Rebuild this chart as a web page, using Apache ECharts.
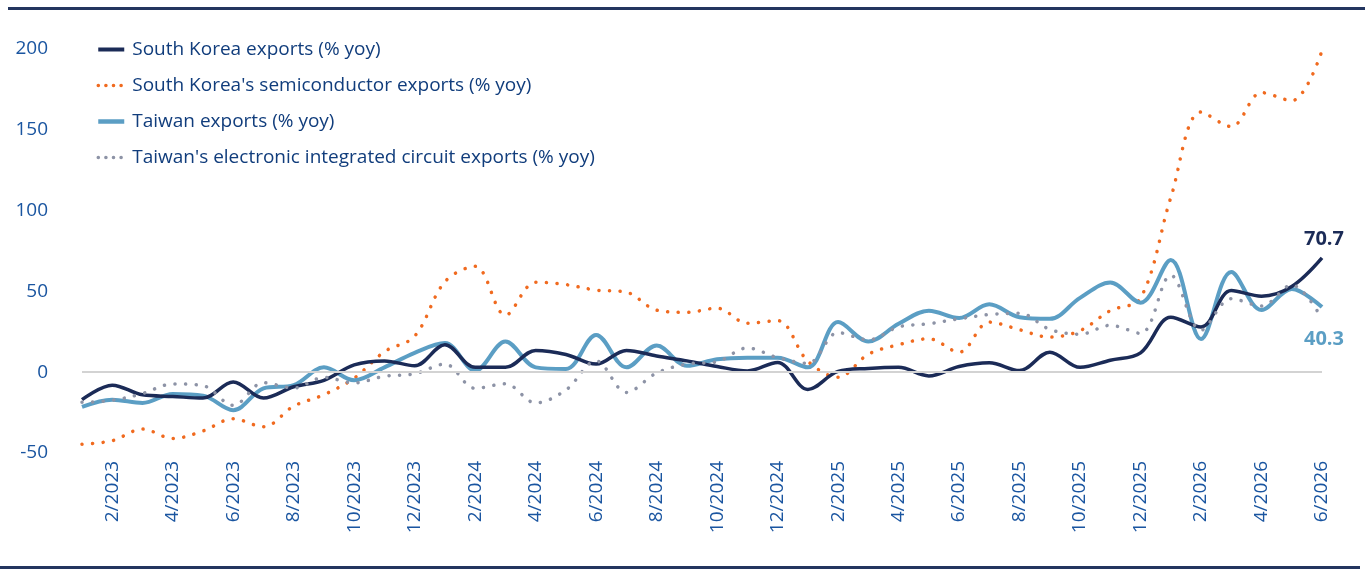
<!DOCTYPE html>
<html lang="en" style="height: 100%">
<head>
  <meta charset="utf-8">
  <script type="text/javascript" src="https://cdn.jsdelivr.net/npm/echarts@6/dist/echarts.min.js"></script>
</head>
<body style="height: 100%; margin: 0; background: #fff">
  <div id="container" style="width: 1365px; height: 578px"></div>
  <script type="text/javascript">
    var months = [
      '1/2023', '2/2023', '3/2023', '4/2023', '5/2023', '6/2023', '7/2023', '8/2023', '9/2023', '10/2023', '11/2023', '12/2023',
      '1/2024', '2/2024', '3/2024', '4/2024', '5/2024', '6/2024', '7/2024', '8/2024', '9/2024', '10/2024', '11/2024', '12/2024',
      '1/2025', '2/2025', '3/2025', '4/2025', '5/2025', '6/2025', '7/2025', '8/2025', '9/2025', '10/2025', '11/2025', '12/2025',
      '1/2026', '2/2026', '3/2026', '4/2026', '5/2026', '6/2026'
    ];
    var koreaExports = [-17, -8, -14, -15, -16, -6, -16, -9, -5, 4.5, 7, 4,
      17, 3, 3, 13.5, 11, 5, 13.5, 10, 7, 3.5, 0.8, 6,
      -10.7, 0.5, 2.3, 3, -2.3, 3.5, 5.8, 1, 12.4, 3, 7.4, 12,
      34, 28, 50.5, 47, 53, 70.7];
    var koreaSemi = [-44.6, -42.4, -35.2, -41, -36.4, -28.8, -33.8, -21, -13.9, -3.7, 12.7, 22.3,
      56, 65.5, 35.3, 55.7, 54.2, 50.8, 49.5, 38.4, 37, 39.6, 30.3, 31.9,
      6.8, -3.1, 11.1, 17, 20.7, 12.4, 31, 26.3, 21.7, 25.7, 38.1, 45.8,
      108, 161, 152, 173, 168, 199];
    var taiwanExports = [-21.5, -17, -19, -13.5, -14.5, -23.5, -10, -8, 3, -5, 3, 12,
      18, 1, 19, 3, 2, 23, 3, 16.5, 4, 8, 9, 9,
      3, 31, 19, 30, 38, 33.5, 42, 34, 33, 46, 55.5, 43,
      69.5, 20.5, 62, 38.5, 51.5, 40.3];
    var taiwanIC = [-18.6, -17.4, -13.2, -7.3, -8.3, -20.5, -6.5, -9.8, -3.2, -6.6, -2.5, -1,
      5, -10, -7.2, -19, -11, 7, -12.5, -0.5, 5, 6.5, 15, 9,
      5.5, 24.5, 20, 28, 30, 33, 35.7, 36.5, 26.5, 23.5, 29, 24,
      60, 26, 45.5, 41, 54, 33];
    var yTicks = { min: -50, max: 200, step: 50 };

    var FONT = '"Open Sans", "Noto Sans", sans-serif';
    var NAVY = '#1b2b57';
    var ORANGE = '#f06a1f';
    var BLUE = '#5b9ec4';
    var GREY = '#8d93a6';

    var NAME_KR = 'South Korea exports (% yoy)';
    var NAME_KR_SEMI = "South Korea's semiconductor exports (% yoy)";
    var NAME_TW = 'Taiwan exports (% yoy)';
    var NAME_TW_IC = "Taiwan's electronic integrated circuit exports (% yoy)";

    // bold value printed next to the last point
    function endLabel(color, offset) {
      return {
        show: true,
        distance: 0,
        offset: offset,
        color: color,
        fontSize: 20,
        fontWeight: 'bold',
        fontFamily: FONT,
        formatter: function (p) { return Number(p.value).toFixed(1); }
      };
    }

    var dom = document.getElementById('container');
    var myChart = echarts.init(dom, null, { renderer: 'canvas' });
    var option = {
      animation: false,
      grid: { left: 82, right: 43, top: 49, bottom: 125 },
      legend: {
        orient: 'vertical',
        left: 96,
        top: 39,
        padding: 0,
        itemWidth: 26,
        itemHeight: 14,
        itemGap: 15,
        itemStyle: { opacity: 0 },
        data: [
          { name: NAME_KR, lineStyle: { width: 4 } },
          { name: NAME_KR_SEMI, lineStyle: { width: 3.5, type: [0.1, 7.5], cap: 'round' } },
          { name: NAME_TW, lineStyle: { width: 4.5 } },
          { name: NAME_TW_IC, lineStyle: { width: 3.5, type: [0.1, 7.5], cap: 'round' } }
        ],
        textStyle: { color: '#113d7c', fontSize: 19, fontFamily: FONT, lineHeight: 21, padding: [0, 0, 0, 3] }
      },
      graphic: [
        { type: 'rect', left: 8, top: 7, shape: { width: 1357, height: 3 }, style: { fill: '#23355f' } },
        { type: 'rect', left: 0, top: 566, shape: { width: 1360, height: 3 }, style: { fill: '#23355f' } }
      ],
      xAxis: {
        type: 'category',
        data: months,
        boundaryGap: false,
        axisLine: { show: false },
        axisTick: { show: false },
        axisLabel: {
          rotate: 90,
          margin: 8,
          color: '#1a55a0',
          fontSize: 19,
          fontFamily: FONT,
          interval: function (i) { return i % 2 === 1; }
        }
      },
      yAxis: {
        type: 'value',
        min: yTicks.min,
        max: yTicks.max,
        interval: yTicks.step,
        axisLine: { show: false },
        axisTick: { show: false },
        splitLine: { show: false },
        axisLabel: { color: '#1a55a0', fontSize: 19, fontFamily: FONT, margin: 34 }
      },
      series: [
        {
          name: 'zero',
          type: 'line',
          data: [],
          z: 1,
          silent: true,
          markLine: {
            silent: true,
            symbol: 'none',
            label: { show: false },
            lineStyle: { color: '#d3d3d3', width: 2, type: 'solid' },
            data: [{ yAxis: 0 }]
          }
        },
        {
          name: NAME_KR_SEMI,
          type: 'line',
          data: koreaSemi,
          smooth: 0.35,
          symbol: 'none',
          itemStyle: { color: ORANGE },
          lineStyle: { color: ORANGE, width: 3.5, type: [0.1, 10.5], cap: 'round' }
        },
        {
          name: NAME_TW,
          type: 'line',
          data: taiwanExports,
          smooth: 0.35,
          symbol: 'none',
          itemStyle: { color: BLUE },
          lineStyle: { color: BLUE, width: 4 },
          endLabel: endLabel(BLUE, [-18, 32])
        },
        {
          name: NAME_KR,
          type: 'line',
          data: koreaExports,
          smooth: 0.35,
          symbol: 'none',
          itemStyle: { color: NAVY },
          lineStyle: { color: NAVY, width: 3.5 },
          endLabel: endLabel(NAVY, [-18, -19])
        },
        {
          name: NAME_TW_IC,
          type: 'line',
          data: taiwanIC,
          smooth: 0.35,
          symbol: 'none',
          itemStyle: { color: GREY },
          lineStyle: { color: GREY, width: 3.5, type: [0.1, 10.5], cap: 'round' }
        }
      ]
    };

    myChart.setOption(option);
  </script>
</body>
</html>
